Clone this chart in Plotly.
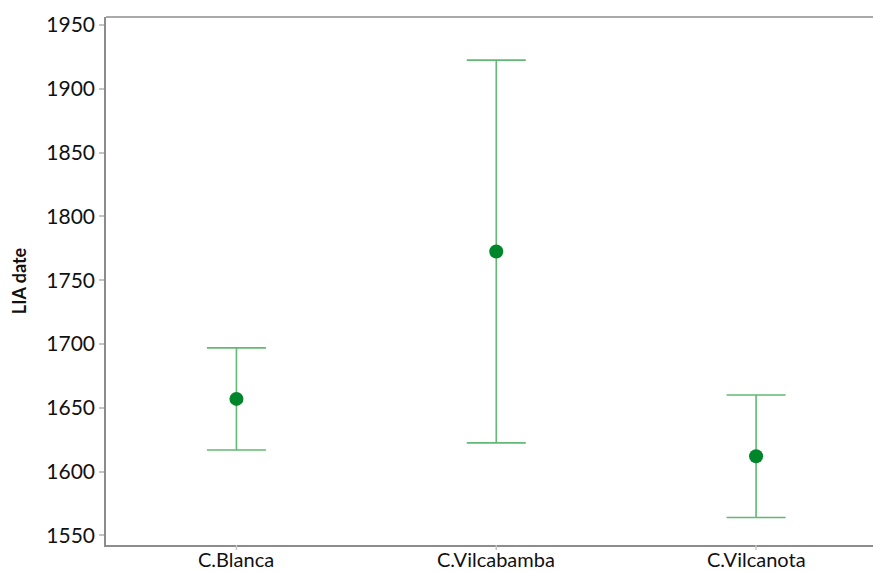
import plotly.graph_objects as go

# Little Ice Age maximum dates per cordillera (mean with error range)
categories = ["C.Blanca", "C.Vilcabamba", "C.Vilcanota"]
lia_mean = [1657, 1772.5, 1612]
lia_err = [40, 150, 48]
y_ticks = [1550, 1600, 1650, 1700, 1750, 1800, 1850, 1900, 1950]

fig = go.Figure()
fig.add_trace(go.Scatter(
    x=categories,
    y=lia_mean,
    mode="markers",
    marker=dict(color="#00862a", size=14),
    error_y=dict(type="data", array=lia_err, visible=True,
                 color="#62b874", thickness=1.6, width=29.5),
    showlegend=False,
    cliponaxis=False,
))

font_family = "Lato, 'Open Sans', sans-serif"
fig.update_layout(
    width=874, height=572,
    margin=dict(l=106, r=1, t=17, b=27, autoexpand=False),
    plot_bgcolor="white", paper_bgcolor="white",
    font=dict(family=font_family, color="#111111"),
)
fig.update_xaxes(
    range=[-0.502, 2.45],
    automargin=False,
    showgrid=False, zeroline=False,
    showline=True, linecolor="#8c8c8c", linewidth=1.5,
    ticks="", showticklabels=False,
)
# category tick marks and labels below the x axis
for c in categories:
    fig.add_shape(type="line", xref="x", yref="paper", x0=c, x1=c,
                  ysizemode="pixel", yanchor=0, y0=0, y1=-5,
                  line=dict(color="#c4c4c4", width=1.5))
    fig.add_annotation(x=c, xref="x", y=0, yref="paper", text=c,
                       showarrow=False, yanchor="top", yshift=-1,
                       borderpad=0, font=dict(size=20, color="#111111"))
# top frame line of the plot area
fig.add_shape(type="line", xref="paper", yref="paper", x0=0, x1=1, y0=1, y1=1,
              line=dict(color="#8c8c8c", width=1.5))
fig.update_yaxes(
    range=[1542.5, 1956.3],
    automargin=False,
    tickvals=y_ticks,
    showgrid=False, zeroline=False,
    showline=True, linecolor="#8c8c8c", linewidth=1.5,
    ticks="outside", ticklen=5, tickcolor="#c4c4c4", tickwidth=1.5,
    tickfont=dict(size=21),
    title=dict(text="<b>LIA date</b>", font=dict(size=18), standoff=15),
)

fig.write_html("out.html")
